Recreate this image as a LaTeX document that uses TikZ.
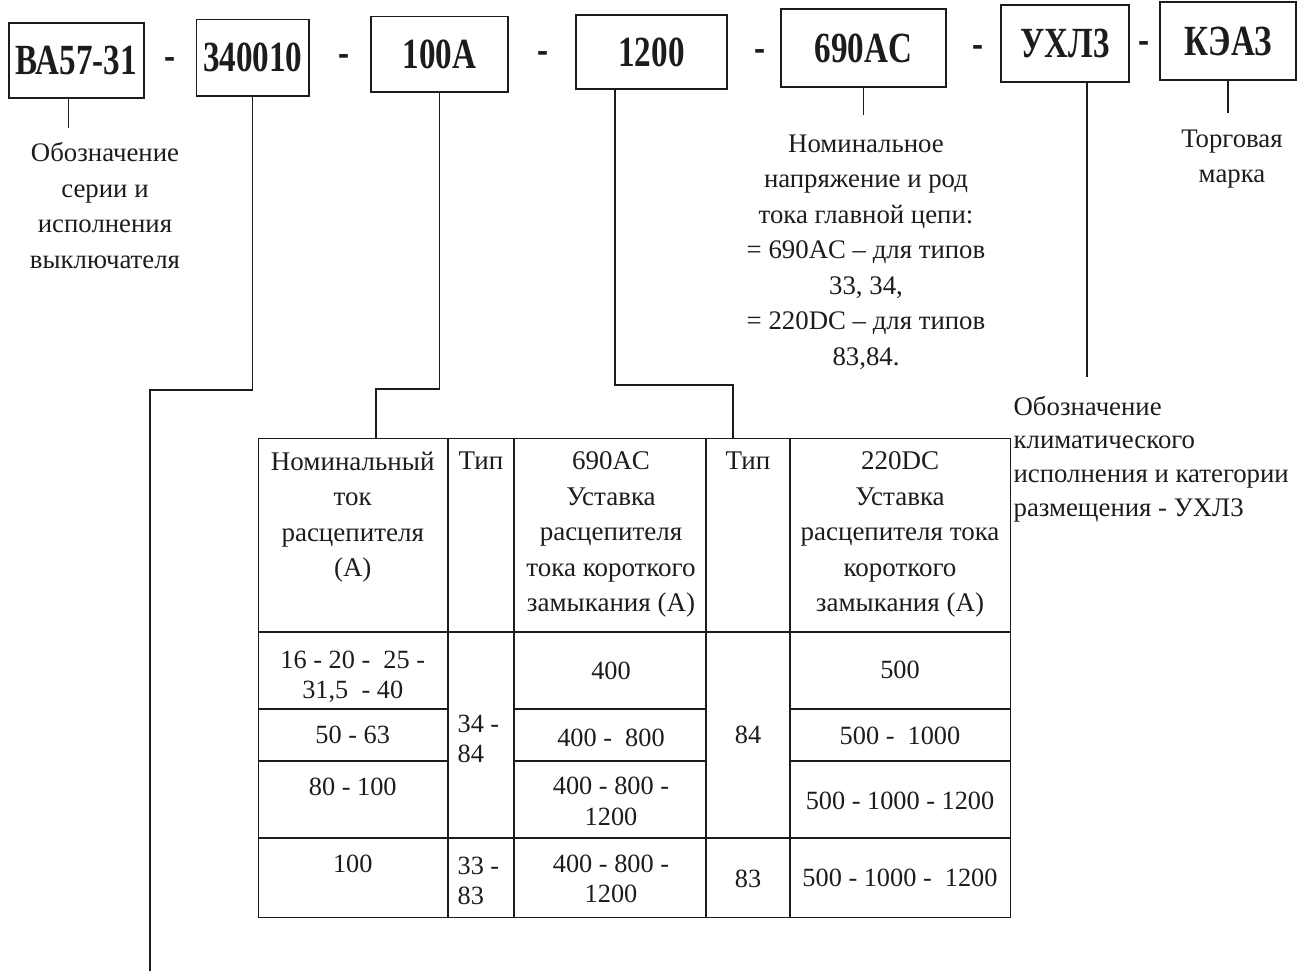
\documentclass[tikz,border=0pt]{standalone}
\usepackage{fontspec}
\setmainfont{Liberation Serif}
\newfontfamily\boxfont{Liberation Serif}[FakeStretch=0.77]
\usetikzlibrary{positioning}
\definecolor{scanink}{HTML}{1C1C1C}

\begin{document}
\begin{tikzpicture}[x=1pt, y=-1pt, line width=1.2pt, draw=scanink, text=scanink,
  code/.style={draw=scanink, inner sep=0pt, font=\boxfont\bfseries\fontsize{43}{43}\selectfont},
  dsh/.style={inner sep=0pt, font=\boxfont\bfseries\fontsize{43}{43}\selectfont},
  note/.style={inner sep=0pt, anchor=north, align=center, font=\fontsize{26.8}{35.5}\selectfont},
  cell/.style={inner sep=0pt, anchor=north, align=center, font=\fontsize{26.3}{30}\selectfont},
  head/.style={cell, font=\fontsize{27}{35.5}\selectfont},
  tip/.style={cell, anchor=north west, align=left}]
  \useasboundingbox (0,0) rectangle (1298,971);
  % designation boxes
  \node[code, minimum width=135pt, minimum height=75pt] (ser) at (76.5,60.5) {ВА57-31};
  \node[code, minimum width=112.5pt, minimum height=76.5pt] (opt) at (252.7,57.8) {340010};
  \node[code, minimum width=137pt, minimum height=75.5pt] (cur) at (439.5,54.3) {100A};
  \node[code, minimum width=151pt, minimum height=74pt] (set) at (651.5,52) {1200};
  \node[code, minimum width=165pt, minimum height=78pt] (volt) at (863.5,48) {690AC};
  \node[code, minimum width=128pt, minimum height=77pt] (clim) at (1065,43.5) {УХЛ3};
  \node[code, minimum width=136pt, minimum height=78pt] (brand) at (1228,41) {КЭАЗ};
  \node[dsh] (d1) at (170,64) {-};
  \node[dsh] (d2) at (344,61) {-};
  \node[dsh] (d3) at (543,58) {-};
  \node[dsh] (d4) at (760,56) {-};
  \node[dsh] (d5) at (978,52) {-};
  \node[dsh] (d6) at (1144,48) {-};
  % explanations
  \node[note] (serlbl) at (105,142) {Обозначение\\серии и\\исполнения\\выключателя};
  \node[note] (voltlbl) at (866,134) {Номинальное\\напряжение и род\\тока главной цепи:\\= 690AC – для типов\\33, 34,\\= 220DC – для типов\\83,84.};
  \node[note, font=\fontsize{26.8}{35}\selectfont] (brandlbl) at (1232,129) {Торговая\\марка};
  \node[note, anchor=north west, align=left, font=\fontsize{26.8}{33.7}\selectfont] (climlbl) at (1013,395.5) {Обозначение\\климатического\\исполнения и категории\\размещения - УХЛ3};
  % table
  \node[draw, inner sep=0pt, anchor=north west, minimum width=752.5pt, minimum height=479.5pt] (tab) at (257.5,437.5) {};
  \foreach \cx in {448,514,706,790} \draw (\cx,437.5) -- (\cx,917);
  \draw (257.5,632) -- (1010,632);
  \draw (257.5,838) -- (1010,838);
  \foreach \ry in {709,761} {
    \draw (257.5,\ry) -- (448,\ry);
    \draw (514,\ry) -- (706,\ry);
    \draw (790,\ry) -- (1010,\ry);
  }
  \node[head] (h1) at (352.75,451) {Номинальный\\ток\\расцепителя\\(А)};
  \node[head] (h2) at (481,451) {Тип};
  \node[head] (h3) at (611,451) {690AC\\Уставка\\расцепителя\\тока короткого\\замыкания (А)};
  \node[head] (h4) at (748,451) {Тип};
  \node[head] (h5) at (900,451) {220DC\\Уставка\\расцепителя тока\\короткого\\замыкания (А)};
  \node[cell] (c1a) at (352.75,650) {16 - 20 -~ 25 -\\31,5~ - 40};
  \node[cell] (c1b) at (352.75,725) {50 - 63};
  \node[cell] (c1c) at (352.75,777) {80 - 100};
  \node[cell] (c1d) at (352.75,854) {100};
  \node[tip] (c2a) at (457,714) {34 -\\84};
  \node[tip] (c2d) at (457,856) {33 -\\83};
  \node[cell] (c3a) at (611,661) {400};
  \node[cell] (c3b) at (611,728) {400 -~ 800};
  \node[cell, font=\fontsize{26.3}{31}\selectfont] (c3c) at (611,776) {400 - 800 -\\1200};
  \node[cell] (c3d) at (611,854) {400 - 800 -\\1200};
  \node[cell] (c4a) at (748,725) {84};
  \node[cell] (c4d) at (748,869) {83};
  \node[cell] (c5a) at (900,660) {500};
  \node[cell] (c5b) at (900,726) {500 -~ 1000};
  \node[cell] (c5c) at (900,791) {500 - 1000 - 1200};
  \node[cell] (c5d) at (900,868) {500 - 1000 -~ 1200};
  % leaders
  \coordinate (serend) at (68.5,128);
  \coordinate (optbend) at (150,390);
  \coordinate (optend) at (150,971);
  \coordinate (curbend) at (376,389);
  \coordinate (setbend) at (733,385);
  \coordinate (climend) at (1087,377);
  \draw (serend |- ser.south) -- (serend);
  \draw (opt.south) -- (opt.south |- optbend) -| (optend);
  \draw (cur.south) |- (curbend) -- (curbend |- tab.north);
  \draw ([xshift=-36.5pt]set.south) |- (setbend) -- (setbend |- tab.north);
  \draw[shorten >=19pt] (volt.south) -- (volt.south |- voltlbl.north);
  \draw (climend |- clim.south) -- (climend);
  \draw[shorten >=16pt] (brand.south) -- (brand.south |- brandlbl.north);
\end{tikzpicture}
\end{document}
